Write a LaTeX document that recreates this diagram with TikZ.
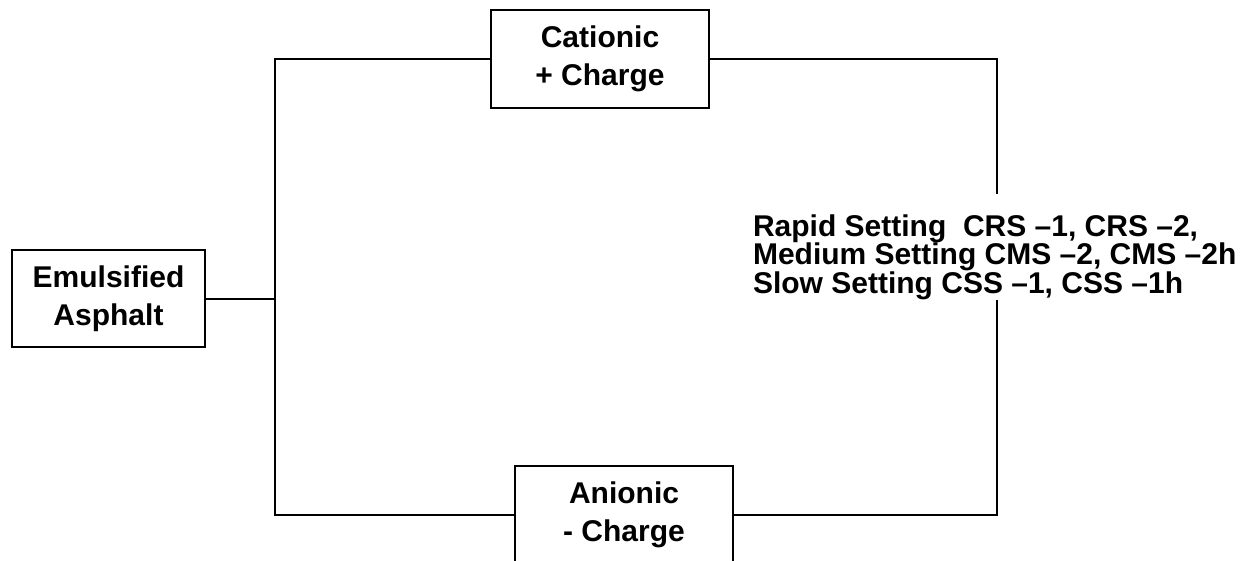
\documentclass[tikz,border=0pt]{standalone}
\usepackage{fontspec}
\setmainfont{Liberation Sans}
\usepackage{tikz}
\usetikzlibrary{positioning}
\usetikzlibrary{calc}
\tikzset{
  emnode/.style = {align=center, inner sep=0pt, text centered, draw=black,
    line width=2pt, font=\fontsize{30}{38}\selectfont\bfseries},
  em_box/.style = {emnode, rectangle, minimum width=193pt, minimum height=97pt},% emulsion
  ch_box/.style = {emnode, rectangle, minimum width=218pt, minimum height=98pt},% charge
  gradetext/.style = {align=left, inner sep=0pt, anchor=west,
    font=\fontsize{30}{28.5}\selectfont\bfseries}
}

\begin{document}
\begin{tikzpicture}[x=1pt,y=-1pt,line width=2pt]
\useasboundingbox (0,0) rectangle (1241,561);
\node [em_box] (emul) at (108.5,298.5) {Emulsified\\Asphalt};
\node [ch_box] (cat) at (600,59) {Cationic\\+ Charge};
\node [ch_box] (an) at (624,515) {Anionic\\- Charge};
\node [gradetext] (grades) at (752,257) {Rapid Setting\ \ CRS \textendash1, CRS \textendash2,\\
  Medium Setting CMS \textendash2, CMS \textendash2h\\
  Slow Setting CSS \textendash1, CSS \textendash1h};

\coordinate (junc) at (275,298.5);
\coordinate (gaptop) at (997,194);
\coordinate (gapbot) at (997,300);

\draw (emul.east) -- (junc);
\draw (junc) |- (cat.west);
\draw (junc) |- (an.west);
\draw (cat.east) -| (gaptop);
\draw (gapbot) |- (an.east);
%\draw[dashed] (grades.north west) rectangle (grades.south east);
\end{tikzpicture}
\end{document}
